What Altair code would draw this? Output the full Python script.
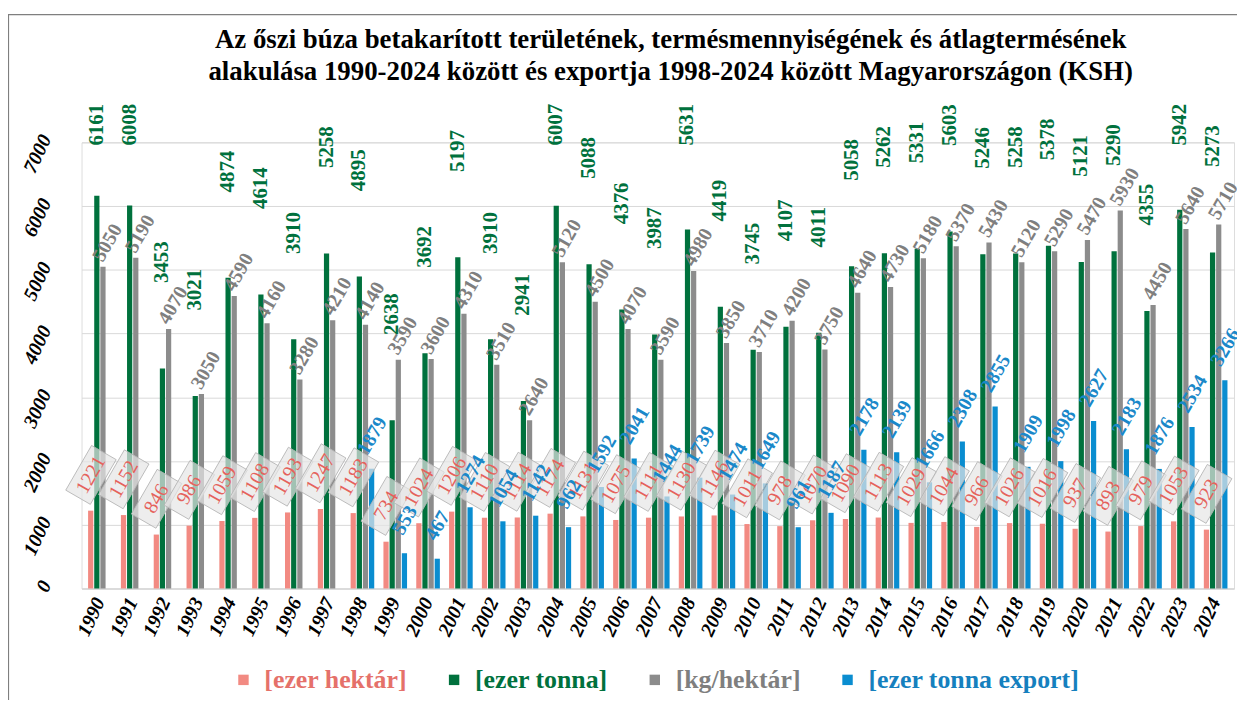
import altair as alt
import pandas as pd

years = [str(y) for y in range(1990, 2025)]
export_years = [str(y) for y in range(1998, 2025)]

hektar = [1221, 1152, 846, 986, 1059, 1108, 1193, 1247, 1183, 734, 1024, 1206, 1110, 1114,
          1174, 1131, 1075, 1111, 1130, 1146, 1011, 978, 1070, 1090, 1113, 1029, 1044, 966,
          1026, 1016, 937, 893, 979, 1053, 923]
tonna = [6161, 6008, 3453, 3021, 4874, 4614, 3910, 5258, 4895, 2638, 3692, 5197, 3910, 2941,
         6007, 5088, 4376, 3987, 5631, 4419, 3745, 4107, 4011, 5058, 5262, 5331, 5603, 5246,
         5258, 5378, 5121, 5290, 4355, 5942, 5273]
kgha = [5050, 5190, 4070, 3050, 4590, 4160, 3280, 4210, 4140, 3590, 3600, 4310, 3510, 2640,
        5120, 4500, 4070, 3590, 4980, 3850, 3710, 4200, 3750, 4640, 4730, 5180, 5370, 5430,
        5120, 5290, 5470, 5930, 4450, 5640, 5710]
export = [1879, 553, 467, 1274, 1054, 1142, 962, 1592, 2041, 1444, 1739, 1474, 1649, 961,
          1187, 2178, 2139, 1666, 2308, 2855, 1909, 1998, 2627, 2183, 1876, 2534, 3266]

series = ["[ezer hektár]", "[ezer tonna]", "[kg/hektár]", "[ezer tonna export]"]
bar_colors = ["#F28A82", "#00713D", "#8C8C8C", "#0A8DD0"]
title_lines = ["Az őszi búza betakarított területének, termésmennyiségének és átlagtermésének",
               "alakulása 1990-2024 között és exportja 1998-2024 között Magyarországon (KSH)"]
y_ticks = [0, 1000, 2000, 3000, 4000, 5000, 6000, 7000]

rows = []
for i, yr in enumerate(years):
    rows.append({"year": yr, "series": series[0], "value": hektar[i]})
    rows.append({"year": yr, "series": series[1], "value": tonna[i]})
    rows.append({"year": yr, "series": series[2], "value": kgha[i]})
for i, yr in enumerate(export_years):
    rows.append({"year": yr, "series": series[3], "value": export[i]})
df = pd.DataFrame(rows)

FONT = "Liberation Serif"

x_enc = alt.X("year:N", sort=years, scale=alt.Scale(paddingInner=0.28),
              axis=alt.Axis(title=None, labelAngle=295, labelAlign="right", labelBaseline="middle",
                            labelFont=FONT, labelFontSize=20, labelFontWeight="bold",
                            labelFontStyle="italic", labelColor="black", labelPadding=10,
                            ticks=False, grid=False, domainColor="#D9D9D9", domainWidth=1.5))
xo_enc = alt.XOffset("series:N", sort=series, scale=alt.Scale(domain=series, paddingInner=0.15))
y_scale = alt.Scale(domain=[0, 7000], nice=False)
y_enc = alt.Y("value:Q", scale=y_scale,
              axis=alt.Axis(title=None, values=y_ticks, format="d", labelAngle=295,
                            labelAlign="right", labelBaseline="middle", labelFont=FONT,
                            labelFontSize=20, labelFontWeight="bold", labelFontStyle="italic",
                            labelColor="black", labelPadding=36, labelOffset=-7, ticks=False,
                            domain=False, gridColor="#D9D9D9", gridWidth=1))

label_color_expr = ("datum.value == '[ezer hektár]' ? '#E5716A' : "
                    "datum.value == '[ezer tonna]' ? '#00713D' : "
                    "datum.value == '[kg/hektár]' ? '#7F7F7F' : '#1580BE'")

base = alt.Chart(df)

bars = base.mark_bar().encode(
    x=x_enc, xOffset=xo_enc, y=y_enc,
    color=alt.Color("series:N", sort=series,
                    scale=alt.Scale(domain=series, range=bar_colors),
                    legend=alt.Legend(title=None, orient="none", legendX=150, legendY=528,
                                      direction="horizontal", symbolType="square",
                                      symbolSize=110, symbolStrokeWidth=0,
                                      labelFont=FONT, labelFontSize=26, labelFontWeight="bold",
                                      labelColor=alt.ExprRef(label_color_expr),
                                      labelOffset=8, columnPadding=34, labelLimit=400)),
)

box_path = "M-1,-0.55L1,-0.55L1,0.55L-1,0.55Z"
red_boxes = base.transform_filter(alt.datum.series == series[0]).mark_point(
    shape=box_path, size=2700, angle=300, filled=True, fill="#E6E6E6", fillOpacity=0.7,
    stroke="#B5B5B5", strokeWidth=0.8, strokeOpacity=1, opacity=1, xOffset=-9, yOffset=-36
).encode(x=alt.X("year:N", sort=years), y=alt.Y("value:Q", scale=y_scale))

red_text = base.transform_filter(alt.datum.series == series[0]).mark_text(
    angle=300, align="center", baseline="middle", font=FONT, fontSize=20,
    color="#E5625C", xOffset=-9, yOffset=-36
).encode(x=alt.X("year:N", sort=years), y=alt.Y("value:Q", scale=y_scale), text="value:Q")

gray_text = base.transform_filter(alt.datum.series == series[2]).mark_text(
    angle=300, align="center", baseline="middle", font=FONT, fontSize=20, fontWeight="bold",
    color="#7F7F7F", dx=23, dy=-8
).encode(x=alt.X("year:N", sort=years), xOffset=xo_enc,
         y=alt.Y("value:Q", scale=y_scale), text="value:Q")

blue_text = base.transform_filter(alt.datum.series == series[3]).mark_text(
    angle=300, align="center", baseline="middle", font=FONT, fontSize=20, fontWeight="bold",
    color="#1A88C9", dx=29, dy=-16
).encode(x=alt.X("year:N", sort=years), xOffset=xo_enc,
         y=alt.Y("value:Q", scale=y_scale), text="value:Q")

green_text = base.transform_filter(alt.datum.series == series[1]).transform_calculate(
    lab="min(datum.value + 1340, 6950)"
).mark_text(
    angle=270, align="left", baseline="middle", font=FONT, fontSize=21, fontWeight="bold",
    color="#00713D"
).encode(x=alt.X("year:N", sort=years), xOffset=xo_enc,
         y=alt.Y("lab:Q", scale=y_scale), text="value:Q")

border = alt.Chart(pd.DataFrame({"k": [0]})).mark_rect(
    fill=None, stroke="#7F7F7F", strokeWidth=1.2
).encode(x=alt.value(-73.5), x2=alt.value(1200), y=alt.value(-128.5), y2=alt.value(640))

chart = alt.layer(
    border, bars, red_boxes, red_text, gray_text, green_text, blue_text
).properties(
    width=1160, height=449,
    title=alt.Title(title_lines, font=FONT, fontSize=27, fontWeight="bold", color="black",
                    lineHeight=32, anchor="middle", dx=13, dy=82, offset=10),
    autosize=alt.AutoSizeParams(type="none"),
    padding={"left": 74, "top": 133, "right": 3, "bottom": 110},
).configure_view(stroke=None).configure(background="white")

chart.save("out.html", embed_options={"renderer": "svg", "actions": False})
